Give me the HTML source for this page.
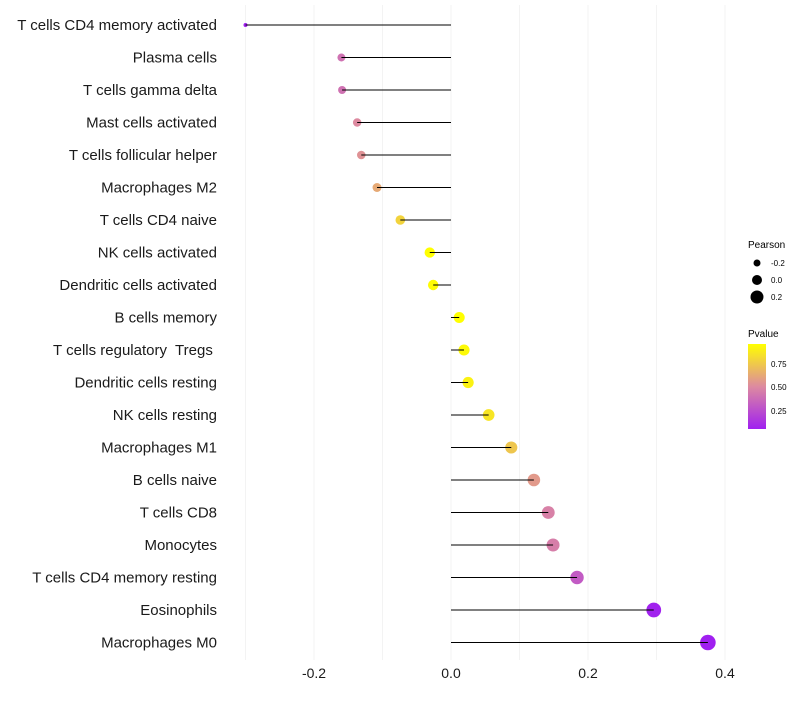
<!DOCTYPE html>
<html><head><meta charset="utf-8"><style>
body{margin:0;background:#fff;font-family:"Liberation Sans",sans-serif}
svg text{font-family:"Liberation Sans",sans-serif}
</style></head><body>
<svg id="chart" width="800" height="700">
<defs><linearGradient id="pg" x1="0" y1="1" x2="0" y2="0">
<stop offset="0" stop-color="#a020f0"/><stop offset="0.5" stop-color="#dd8aa0"/><stop offset="1" stop-color="#ffff00"/>
</linearGradient></defs>
<g id="grid"></g>
<g id="marks"></g>
<g id="ylab"></g>
<g id="xlab"></g>
<g>
<text x="748" y="248" font-size="10">Pearson</text>
<circle cx="757" cy="263" r="3.5" fill="#000"/>
<text x="771" y="266" font-size="8">-0.2</text>
<circle cx="757" cy="280" r="5" fill="#000"/>
<text x="771" y="283" font-size="8">0.0</text>
<circle cx="757" cy="297" r="6.5" fill="#000"/>
<text x="771" y="300" font-size="8">0.2</text>
</g>
<g>
<text x="748" y="337" font-size="10">Pvalue</text>
<rect x="748" y="344" width="18" height="85" fill="url(#pg)"/>
<text x="771" y="367" font-size="8">0.75</text>
<text x="771" y="390" font-size="8">0.50</text>
<text x="771" y="414" font-size="8">0.25</text>
</g>
</svg>
<script>
const categories=["T cells CD4 memory activated","Plasma cells","T cells gamma delta","Mast cells activated","T cells follicular helper","Macrophages M2","T cells CD4 naive","NK cells activated","Dendritic cells activated","B cells memory","T cells regulatory  Tregs ","Dendritic cells resting","NK cells resting","Macrophages M1","B cells naive","T cells CD8","Monocytes","T cells CD4 memory resting","Eosinophils","Macrophages M0"];
const pearson=[-0.30,-0.16,-0.159,-0.137,-0.131,-0.108,-0.074,-0.031,-0.026,0.012,0.019,0.025,0.055,0.088,0.121,0.142,0.149,0.184,0.296,0.375];
const pvalue=[0.02,0.4,0.4,0.5,0.53,0.62,0.78,0.95,0.94,0.95,0.93,0.9,0.85,0.73,0.56,0.46,0.45,0.3,0.06,0.02];
const xTicks=[-0.2,0.0,0.2,0.4];
const xTickLabels=["-0.2","0.0","0.2","0.4"];
const gridVals=[-0.3,-0.2,-0.1,0,0.1,0.2,0.3,0.4];
const NS="http://www.w3.org/2000/svg";
const xs=v=>451+v*685;
const ys=i=>25+i*32.5;
const rs=v=>Math.sqrt(Math.max(3,29.3+84.4*v));
function col(p){
  const a=[[160,32,240],[221,138,160],[255,255,0]];
  const t=Math.max(0,Math.min(1,(p-0.05)/0.9));
  let c0,c1,u;
  if(t<0.5){c0=a[0];c1=a[1];u=t/0.5}else{c0=a[1];c1=a[2];u=(t-0.5)/0.5}
  return "rgb("+c0.map((c,k)=>Math.round(c+(c1[k]-c)*u)).join(",")+")";
}
function mk(tag,attrs,parent){const e=document.createElementNS(NS,tag);for(const k in attrs)e.setAttribute(k,attrs[k]);document.getElementById(parent).appendChild(e);return e;}
gridVals.forEach(v=>{
  const l=mk("line",{x1:xs(v),x2:xs(v),y1:5,y2:660,stroke:"#f3f3f3","stroke-width":1},"grid");
  
  
});
categories.forEach((c,i)=>{
  const y=ys(i);
  const pt=mk("circle",{cx:xs(pearson[i]),cy:y,r:rs(pearson[i]),fill:col(pvalue[i])},"marks");
  
  
  const ln=mk("line",{x1:xs(pearson[i]),x2:xs(0),y1:y,y2:y,stroke:"#000","stroke-width":1},"marks");
  
  
  const t=mk("text",{x:217,y:y+5,"text-anchor":"end","font-size":15,fill:"#1a1a1a"},"ylab");
  t.setAttribute("xml:space","preserve");
  t.style.whiteSpace="pre";
  t.textContent=c;
  
  
});
xTicks.forEach((v,i)=>{
  const t=mk("text",{x:xs(v),y:678,"text-anchor":"middle","font-size":14,fill:"#1a1a1a"},"xlab");
  t.textContent=xTickLabels[i];
  
  
});
</script>
</body></html>
